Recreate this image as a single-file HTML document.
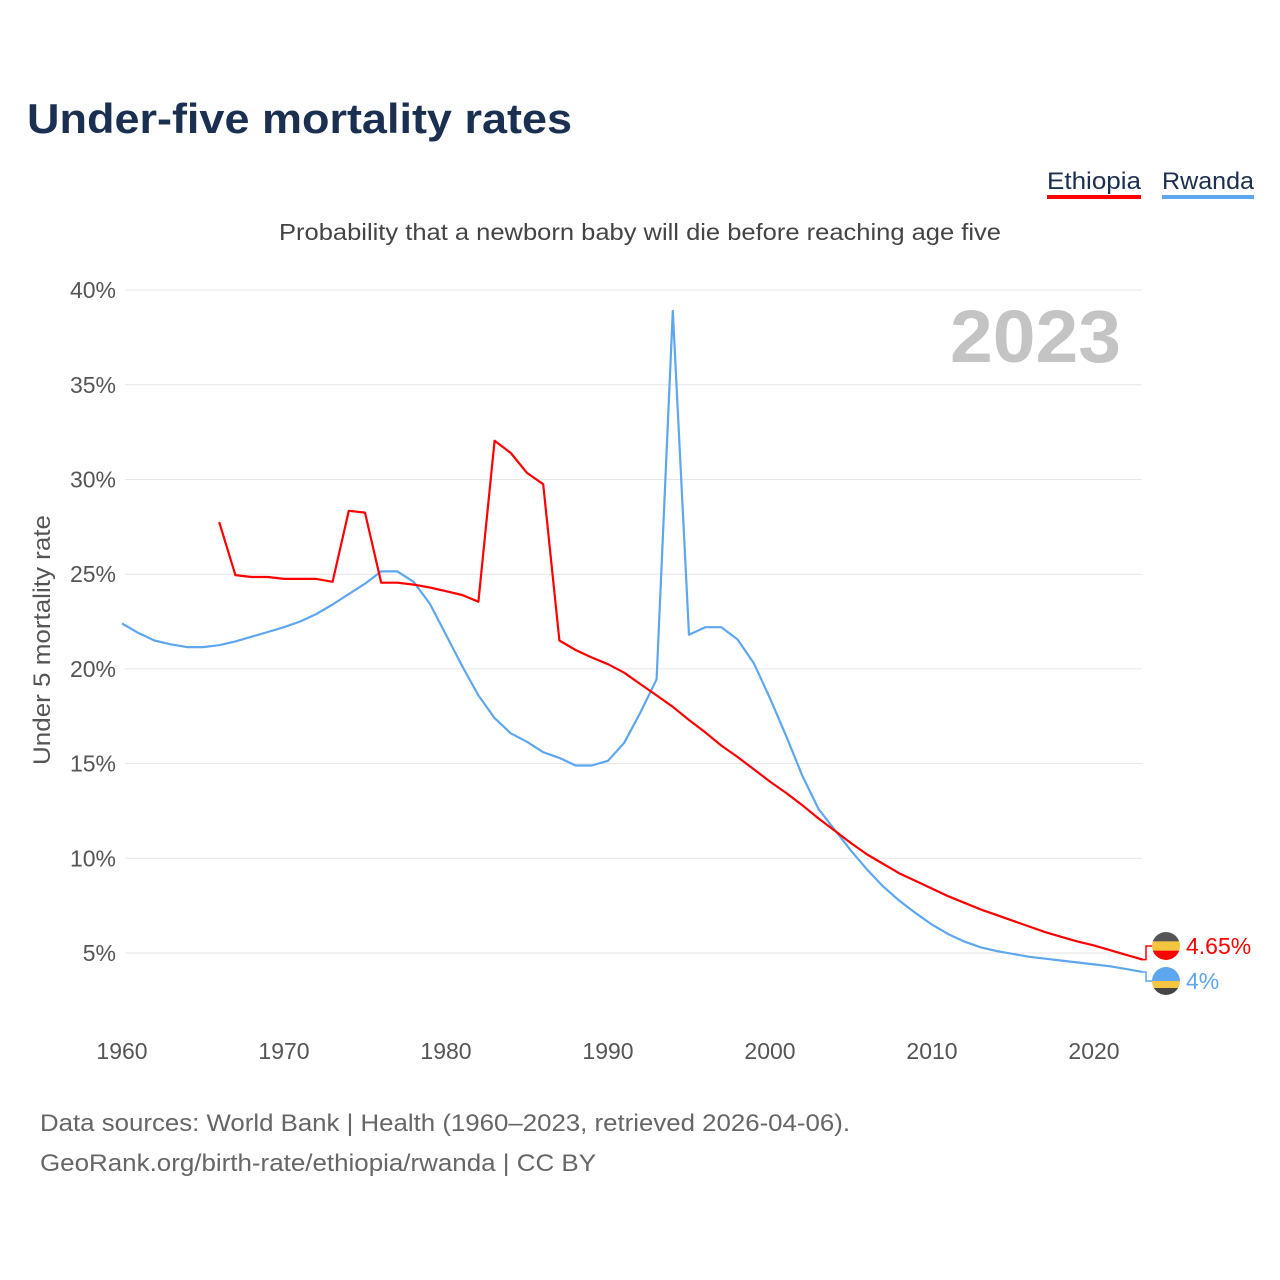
<!DOCTYPE html>
<html><head><meta charset="utf-8"><style>
html,body{margin:0;padding:0;background:#fff;width:1280px;height:1280px;overflow:hidden}
svg{display:block;font-family:"Liberation Sans",sans-serif}
</style></head><body>
<svg id="chart" width="1280" height="1280" viewBox="0 0 1280 1280">
<text x="27" y="133" font-size="42" font-weight="bold" fill="#1b2f50" textLength="545" lengthAdjust="spacingAndGlyphs">Under-five mortality rates</text>
<g>
<g><text x="1047" y="189" font-size="24" fill="#1b2f50" textLength="94" lengthAdjust="spacingAndGlyphs">Ethiopia</text><rect x="1047" y="195" width="94" height="4" fill="#ff0000"/></g>
<g><text x="1162" y="189" font-size="24" fill="#1b2f50" textLength="92" lengthAdjust="spacingAndGlyphs">Rwanda</text><rect x="1162" y="195" width="92" height="4" fill="#5ea7ee"/></g>
</g>
<text x="640" y="240" font-size="23" fill="#444" text-anchor="middle" textLength="722" lengthAdjust="spacingAndGlyphs">Probability that a newborn baby will die before reaching age five</text>
<text x="950" y="362" font-size="74" font-weight="bold" fill="#c4c4c4" textLength="171" lengthAdjust="spacingAndGlyphs">2023</text>
<text transform="translate(50,640) rotate(-90)" font-size="24" fill="#555" text-anchor="middle" textLength="250" lengthAdjust="spacingAndGlyphs">Under 5 mortality rate</text>
<g id="grid"></g>
<g id="yticks"></g>
<g id="xticks"></g>
<g id="series"></g>
<g id="ends"></g>
<text x="40" y="1131" font-size="24" fill="#666" textLength="810" lengthAdjust="spacingAndGlyphs">Data sources: World Bank | Health (1960–2023, retrieved 2026-04-06).</text>
<text x="40" y="1171" font-size="24" fill="#666" textLength="556" lengthAdjust="spacingAndGlyphs">GeoRank.org/birth-rate/ethiopia/rwanda | CC BY</text>
</svg>
<script>
const yTicks = [5,10,15,20,25,30,35,40];
const xTicks = [1960,1970,1980,1990,2000,2010,2020];
const ethYears = [1966,1967,1968,1969,1970,1971,1972,1973,1974,1975,1976,1977,1978,1979,1980,1981,1982,1983,1984,1985,1986,1987,1988,1989,1990,1991,1992,1993,1994,1995,1996,1997,1998,1999,2000,2001,2002,2003,2004,2005,2006,2007,2008,2009,2010,2011,2012,2013,2014,2015,2016,2017,2018,2019,2020,2021,2022,2023];
const ethValues = [27.75,24.95,24.85,24.85,24.75,24.75,24.75,24.6,28.35,28.25,24.55,24.55,24.45,24.3,24.1,23.9,23.55,32.05,31.4,30.35,29.75,21.5,21.0,20.6,20.25,19.8,19.2,18.6,18.0,17.3,16.65,15.95,15.35,14.7,14.05,13.45,12.8,12.1,11.45,10.8,10.2,9.7,9.2,8.8,8.4,8.0,7.65,7.3,7.0,6.7,6.4,6.1,5.85,5.6,5.4,5.15,4.9,4.65];
const rwaYears = [1960,1961,1962,1963,1964,1965,1966,1967,1968,1969,1970,1971,1972,1973,1974,1975,1976,1977,1978,1979,1980,1981,1982,1983,1984,1985,1986,1987,1988,1989,1990,1991,1992,1993,1994,1995,1996,1997,1998,1999,2000,2001,2002,2003,2004,2005,2006,2007,2008,2009,2010,2011,2012,2013,2014,2015,2016,2017,2018,2019,2020,2021,2022,2023];
const rwaValues = [22.4,21.9,21.5,21.3,21.15,21.15,21.25,21.45,21.7,21.95,22.2,22.5,22.9,23.4,23.95,24.5,25.15,25.15,24.6,23.45,21.8,20.15,18.6,17.4,16.6,16.15,15.6,15.3,14.9,14.9,15.15,16.1,17.7,19.45,38.9,21.8,22.2,22.2,21.55,20.3,18.45,16.45,14.35,12.6,11.5,10.4,9.4,8.5,7.75,7.1,6.5,6.0,5.6,5.3,5.1,4.95,4.8,4.7,4.6,4.5,4.4,4.3,4.15,4.0];
const NS='http://www.w3.org/2000/svg';
function xs(yr){return 122+(yr-1960)*16.2;}
function ys(v){return 1047.7-v*18.94;}
function mk(tag,attrs,parent){const e=document.createElementNS(NS,tag);for(const k in attrs)e.setAttribute(k,attrs[k]);parent.appendChild(e);return e;}
const grid=document.getElementById('grid'),yt=document.getElementById('yticks'),xt=document.getElementById('xticks'),ser=document.getElementById('series'),ends=document.getElementById('ends');
yTicks.forEach(t=>{
  const l=mk('line',{x1:125,x2:1142,y1:ys(t),y2:ys(t),stroke:'#e6e6e6','stroke-width':1},grid);
  
  
  const tx=mk('text',{x:116,y:ys(t)+8,'font-size':23,fill:'#555','text-anchor':'end'},yt);
  tx.textContent=t+'%';
  
  
});
xTicks.forEach(t=>{
  const tx=mk('text',{x:xs(t),y:1059,'font-size':23,fill:'#555','text-anchor':'middle'},xt);
  tx.textContent=t;
  
  
});
function line(years,vals,color,name,w){
  const d=years.map((y,i)=>(i?'L':'M')+xs(y).toFixed(1)+','+ys(vals[i]).toFixed(1)).join(' ');
  const p=mk('path',{d:d,fill:'none',stroke:color,'stroke-width':w,'stroke-linejoin':'round'},ser);
  
  
}
line(rwaYears,rwaValues,'#5ea7ee','rwanda-line',2.2);
line(ethYears,ethValues,'#ff0000','ethiopia-line',2.2);
function endLabel(vals,color,labelY,name,flag){
  const v=vals[vals.length-1],x0=xs(2023),y0=ys(v);
  const p=mk('path',{d:`M${x0},${y0} L1146,${y0} L1146,${labelY} L1152,${labelY}`,fill:'none',stroke:color,'stroke-width':1.5},ends);
  
  
  const g=mk('g',{},ends);
  
  
  const cx=1166,r=14;
  const cp=mk('clipPath',{id:'c'+name},g);
  mk('circle',{cx:cx,cy:labelY,r:r},cp);
  const gg=mk('g',{'clip-path':`url(#c${name})`},g);
  flag.forEach((c,i)=>mk('rect',{x:cx-r,y:labelY-r+i*(2*r/flag.length),width:2*r,height:2*r/flag.length+0.5,fill:c},gg));
  const t=mk('text',{x:1186,y:labelY+8,'font-size':23,fill:color},ends);
  t.textContent=(+v.toFixed(2))+'%';
  
  
}
endLabel(ethValues,'#ff0000',946,'ethiopia',['#555','#f5c542','#ff0000']);
endLabel(rwaValues,'#5ea7ee',981,'rwanda',['#5ea7ee','#5ea7ee','#f5c542','#444']);
</script>
</body></html>
